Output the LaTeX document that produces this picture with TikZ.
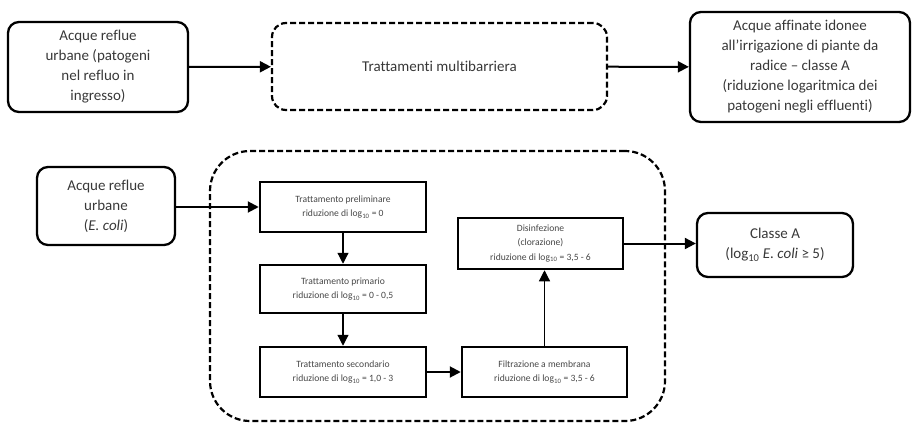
\documentclass[tikz,border=0pt]{standalone}
\usepackage{fontspec}
\setmainfont[Ligatures=NoCommon]{Carlito}
\usetikzlibrary{arrows.meta,calc}
\begin{document}
\begin{tikzpicture}[x=1pt,y=-1pt,
  bigbox/.style={draw=black,line width=2.3pt,rounded corners=11pt,align=center,inner sep=2pt,text=black!78,font=\fontsize{15}{20}\selectfont},
  dashbox/.style={draw=black,line width=2.2pt,dash pattern=on 6pt off 3pt,rounded corners=14pt,align=center,text=black!78,font=\fontsize{15}{20}\selectfont},
  stepbox/.style={draw=black,line width=2.5pt,align=center,inner sep=1pt,text=black!72,font=\fontsize{9.6}{14.5}\selectfont,minimum width=166pt,minimum height=50pt},
  thickarrow/.style={line width=2pt,-{Triangle[length=11pt,width=11pt]}},
  thinarrow/.style={line width=1.2pt,-{Triangle[length=11pt,width=11pt]}}
]
\useasboundingbox (0,0) rectangle (912,423);
% top row
\node[bigbox,minimum width=180pt,minimum height=90pt] (A) at (98,67)
  {Acque reflue\\urbane (patogeni\\nel refluo in\\ingresso)};
\node[dashbox,minimum width=335pt,minimum height=87pt] (B) at (439.5,66.5)
  {Trattamenti multibarriera};
\node[bigbox,minimum width=220pt,minimum height=110pt] (C) at (800,67)
  {Acque affinate idonee\\all'irrigazione di piante da\\radice – classe A\\(riduzione logaritmica dei\\patogeni negli effluenti)};
\draw[thickarrow] (A) -- (B);
\draw[thickarrow] (B) -- (C);
% bottom
\node[dashbox,rounded corners=40pt,minimum width=455pt,minimum height=270pt] (G) at (437.5,286) {};
\node[bigbox,minimum width=138pt,minimum height=78pt] (D) at (106,206)
  {Acque reflue\\urbane\\(\textit{E. coli})};
\node[stepbox] (P1) at (343,207)
  {Trattamento preliminare\\riduzione di log\textsubscript{10} = 0};
\node[stepbox,minimum height=48pt] (P2) at (343,289)
  {Trattamento primario\\riduzione di log\textsubscript{10} = 0 - 0,5};
\node[stepbox] (P3) at (343,372)
  {Trattamento secondario\\riduzione di log\textsubscript{10} = 1,0 - 3};
\node[stepbox,minimum width=165pt] (P4) at (544.5,372)
  {Filtrazione a membrana\\riduzione di log\textsubscript{10} = 3,5 - 6};
\node[stepbox,minimum width=165pt,minimum height=51pt] (P5) at (540.5,243.5)
  {Disinfezione\\(clorazione)\\riduzione di log\textsubscript{10} = 3,5 - 6};
\node[bigbox,minimum width=156pt,minimum height=64pt] (E) at (775,245)
  {Classe A\\(log\textsubscript{10} \textit{E. coli} ≥ 5)};
\draw[thickarrow] (D.east |- P1.west) -- (P1.west);
\draw[thinarrow] (P1) -- (P2);
\draw[thinarrow] (P2) -- (P3);
\draw[thickarrow] (P3) -- (P4);
\draw[thinarrow] (P4.north) -- (P4.north |- P5.south);
\draw[thickarrow] (P5.east) -- (P5.east -| E.west);
\end{tikzpicture}
\end{document}
